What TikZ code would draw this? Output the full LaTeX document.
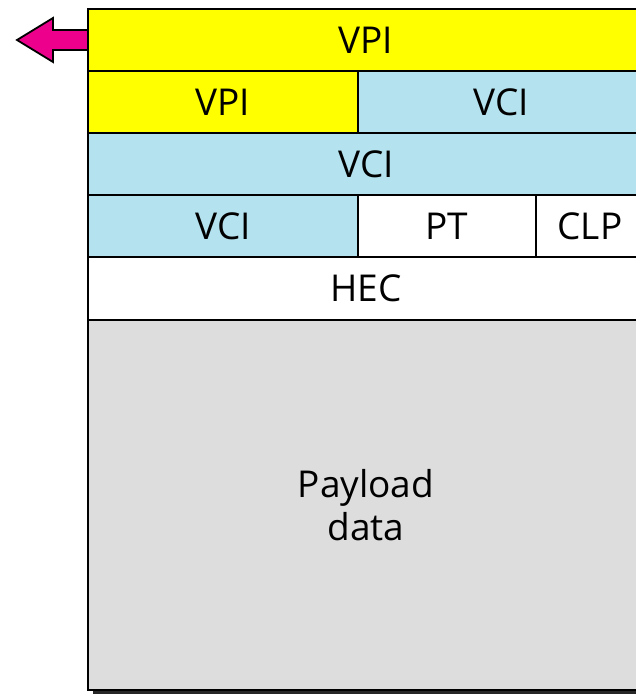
\documentclass[tikz,border=0pt]{standalone}
\usepackage{fontspec}
\setmainfont{Open Sans}
\usepackage{xcolor}
\usetikzlibrary{positioning, calc}
\definecolor{vpiyellow}{RGB}{255,255,0}
\definecolor{vciblue}{RGB}{180,226,238}
\definecolor{payloadgray}{RGB}{221,221,221}
\definecolor{arrowpink}{RGB}{236,0,140}

\begin{document}
\begin{tikzpicture}[
  x=1pt, y=-1pt,
  cell/.style={draw, line width=2.5pt, inner sep=0pt, outer sep=0pt,
    minimum height=62pt, align=center,
    font=\fontsize{37}{43}\selectfont},
  vpicell/.style={cell, fill=vpiyellow},
  vcicell/.style={cell, fill=vciblue},
  plaincell/.style={cell, fill=white},
]
\clip (0,0) rectangle (636,695);

% ===== Shadow of the cell =====
\fill[black!85] (93,13) rectangle (649,694);

% ===== Header rows =====
\node[vpicell, minimum width=556pt] (vpiA) at (366, 40) {VPI};
\node[vpicell, minimum width=270pt] (vpiB) at (223, 102) {VPI};
\node[vcicell, minimum width=286pt] (vciA) at (501, 102) {VCI};
\node[vcicell, minimum width=556pt] (vciB) at (366, 164) {VCI};
\node[vcicell, minimum width=270pt] (vciC) at (223, 226) {VCI};
\node[plaincell, minimum width=178pt] (pt) at (447, 226) {PT};
\node[plaincell, minimum width=108pt] (clp) at (590, 226) {CLP};
\node[plaincell, minimum width=556pt, minimum height=63pt] (hec) at (366, 288.5) {HEC};

% ===== Payload =====
\node[cell, fill=payloadgray, minimum width=556pt, minimum height=370pt]
  (payload) at (366, 505) {Payload\\data};

% ===== Arrow out of the VPI field =====
\filldraw[fill=arrowpink, line width=1.8pt, line join=miter]
  (vpiA.west |- 0,30) -- (53,30) -- (53,18) -- (17,40)
  -- (53,62) -- (53,50) -- (vpiA.west |- 0,50);
\draw[line width=2.5pt] (vpiA.north west) -- (vpiA.south west);

\end{tikzpicture}
\end{document}
